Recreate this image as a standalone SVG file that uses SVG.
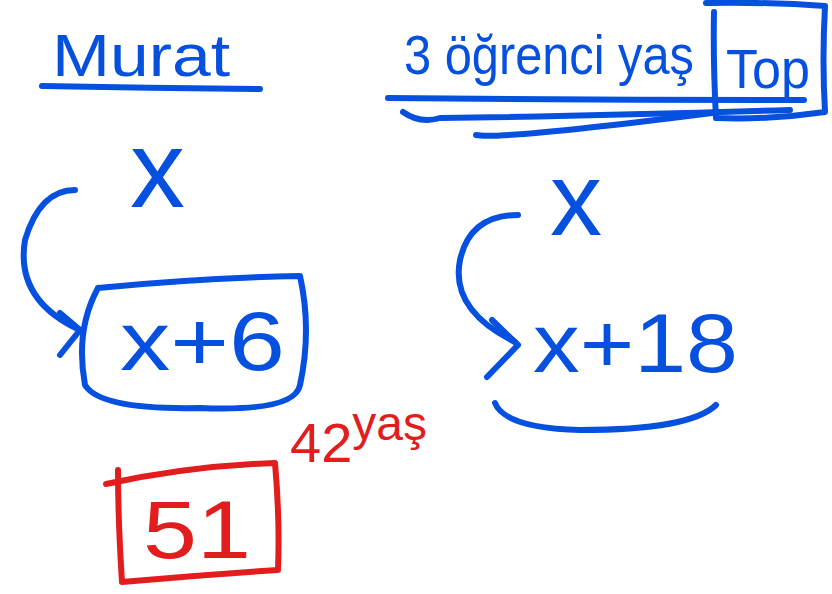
<svg xmlns="http://www.w3.org/2000/svg" width="832" height="594" viewBox="0 0 832 594">
<style>
.b{fill:none;stroke:#0650e0;stroke-width:6;stroke-linecap:round;stroke-linejoin:round}
.r{fill:none;stroke:#e21d1d;stroke-width:6;stroke-linecap:round;stroke-linejoin:round}
.tb{fill:#0650e0;font-family:"Liberation Sans",Arial,sans-serif}
.tr{fill:#e21d1d;font-family:"Liberation Sans",Arial,sans-serif}
</style>
<rect width="832" height="594" fill="#fff"/>
<g id="murat">
<text class="tb" x="52" y="76" font-size="60" textLength="178" lengthAdjust="spacingAndGlyphs">Murat</text>
<path class="b" d="M42 86 Q150 88 260 89"/>
</g>
<g id="title">
<text class="tb" x="404" y="74" font-size="56" textLength="290" lengthAdjust="spacingAndGlyphs">3 öğrenci yaş</text>
<path class="b" d="M388 98 Q600 100 804 100"/>
<path class="b" d="M403 112 Q420 124 440 118 Q600 116 790 110"/>
<path class="b" d="M476 135 Q500 140 720 112"/>
</g>
<g id="top">
<text class="tb" x="726" y="88" font-size="56" textLength="84" lengthAdjust="spacingAndGlyphs">Top</text>
<path class="b" d="M706 3 Q770 2 825 6 Q822 60 825 112 Q770 120 716 118 Q713 60 714 12"/>
</g>
<g id="x-left"><text class="tb" x="130" y="207" font-size="110">x</text></g>
<g id="xplus6">
<path class="b" d="M98 288 Q200 278 300 276 Q312 330 300 385 Q295 412 200 408 Q100 410 85 385 Q75 330 98 288"/>
<text class="tb" x="120" y="370" font-size="84" textLength="165" lengthAdjust="spacingAndGlyphs">x+6</text>
</g>
<g id="x-right"><text class="tb" x="550" y="235" font-size="104">x</text></g>
<g id="xplus18">
<text class="tb" x="533" y="372" font-size="84" textLength="205" lengthAdjust="spacingAndGlyphs">x+18</text>
<path class="b" d="M495 403 Q505 428 580 430 Q690 430 716 405"/>
</g>
<g id="age42"><text class="tr" x="290" y="462" font-size="56">42<tspan font-size="48" dy="-22">yaş</tspan></text></g>
<g id="ans51">
<path class="r" d="M106 484 Q190 466 275 463 Q280 520 278 570 Q200 575 122 582 Q118 520 118 470"/>
<text class="tr" x="143" y="558" font-size="82" textLength="108" lengthAdjust="spacingAndGlyphs">51</text>
</g>
<g id="connectors">
<path class="b" d="M75 190 Q40 190 25 240 Q15 300 80 330"/>
<path class="b" d="M60 313 L80 330 L60 355"/>
<path class="b" d="M518 215 Q470 215 460 260 Q450 310 515 342"/>
<path class="b" d="M492 320 L518 345 L487 377"/>
</g>
</svg>
